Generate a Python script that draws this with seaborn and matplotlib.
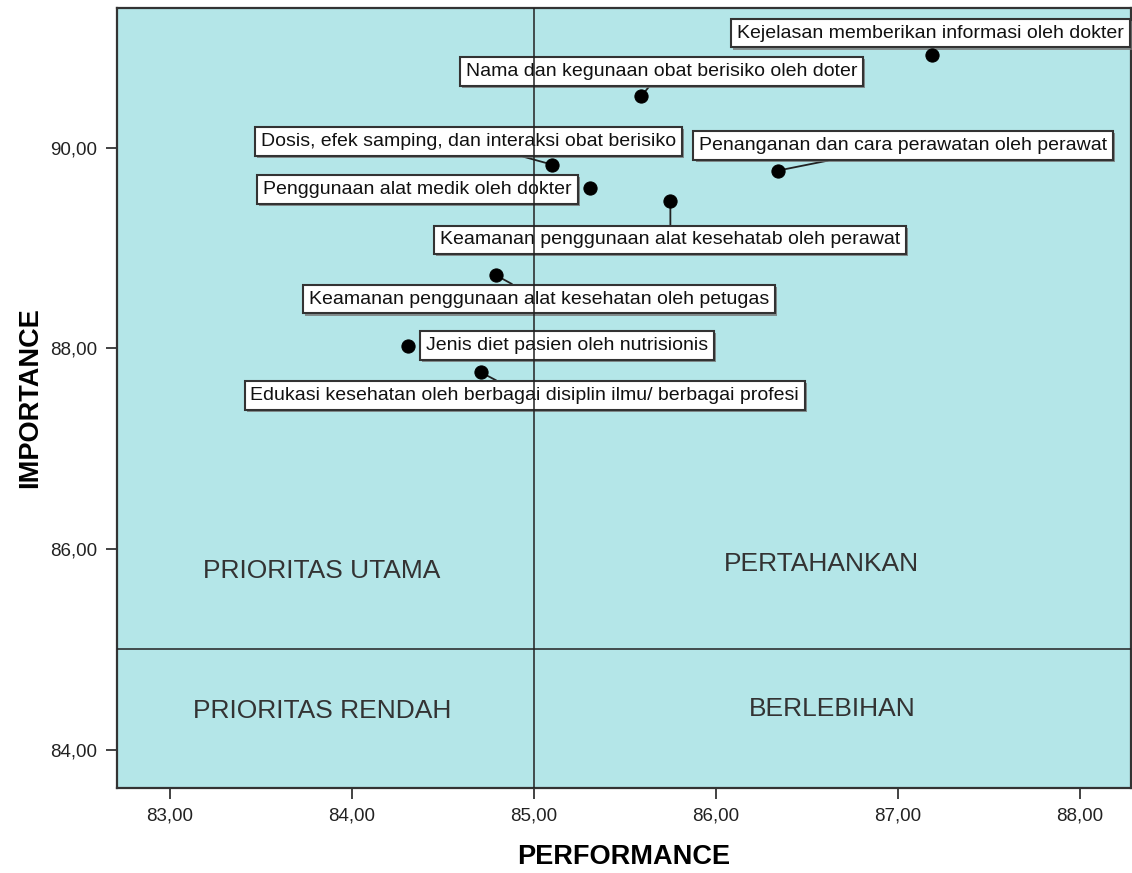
import matplotlib
matplotlib.use("Agg")
import matplotlib.pyplot as plt
import matplotlib.ticker as mticker
import matplotlib.patheffects as pe
import seaborn as sns
import pandas as pd

# item labels and their (performance, importance) scores
items = [
    "Kejelasan memberikan informasi oleh dokter",
    "Nama dan kegunaan obat berisiko oleh doter",
    "Dosis, efek samping, dan interaksi obat berisiko",
    "Penanganan dan cara perawatan oleh perawat",
    "Penggunaan alat medik oleh dokter",
    "Keamanan penggunaan alat kesehatab oleh perawat",
    "Keamanan penggunaan alat kesehatan oleh petugas",
    "Jenis diet pasien oleh nutrisionis",
    "Edukasi kesehatan oleh berbagai disiplin ilmu/ berbagai profesi",
]
performance = [87.19, 85.59, 85.10, 86.34, 85.31, 85.75, 84.79, 84.31, 84.71]
importance = [90.92, 90.51, 89.83, 89.77, 89.60, 89.47, 88.73, 88.02, 87.76]

x_ticks = [83, 84, 85, 86, 87, 88]
y_ticks = [84, 86, 88, 90]
x_cut = 85.0
y_cut = 85.0

quadrants = ["PRIORITAS UTAMA", "PERTAHANKAN", "PRIORITAS RENDAH", "BERLEBIHAN"]

# label box centres (data coords) and whether a leader line is drawn
label_pos = [
    (87.18, 91.14), (85.70, 90.76), (84.64, 90.06), (87.03, 90.02),
    (84.36, 89.58), (85.75, 89.08), (85.03, 88.49), (85.18, 88.03),
    (84.95, 87.53),
]
leader = [False, True, True, True, False, True, True, False, True]

df = pd.DataFrame({"item": items, "performance": performance, "importance": importance})

plt.rcParams["font.family"] = ["Liberation Sans", "DejaVu Sans"]

fig = plt.figure(figsize=(11.32, 8.73), dpi=100)
ax = fig.add_axes([0.1034, 0.0974, 0.8956, 0.8934])
ax.set_facecolor("#b4e6e8")

# cut lines sit on top of the label boxes, like the original
ax.axvline(x_cut, color="#222222", linewidth=1.1, zorder=6)
ax.axhline(y_cut, color="#222222", linewidth=1.1, zorder=6)

sns.scatterplot(data=df, x="performance", y="importance", ax=ax,
                color="black", s=90, edgecolor="black", zorder=7, legend=False)

for name, px, py, (lx, ly), ln in zip(items, performance, importance, label_pos, leader):
    ann = ax.annotate(name, xy=(px, py), xytext=(lx, ly), ha="center", va="center",
                      fontsize=14, color="#111111", zorder=3,
                      bbox=dict(boxstyle="square,pad=0.3", fc="white", ec="#333333", lw=1.5),
                      arrowprops=dict(arrowstyle="-", color="#222222", lw=1.3,
                                      shrinkA=0, shrinkB=0) if ln else None)
    ann.get_bbox_patch().set_path_effects(
        [pe.SimplePatchShadow(offset=(1.5, -1.5), shadow_rgbFace="#777777", alpha=0.8),
         pe.Normal()])

qx = [83.835, 86.58, 83.835, 86.64]
qy = [85.78, 85.85, 84.39, 84.41]
for txt, x, y in zip(quadrants, qx, qy):
    ax.text(x, y, txt, ha="center", va="center", fontsize=19, color="#333333")

ax.set_xlim(82.71, 88.28)
ax.set_ylim(83.62, 91.39)
ax.set_xticks(x_ticks)
ax.set_yticks(y_ticks)
fmt = mticker.FuncFormatter(lambda v, p: f"{v:.2f}".replace(".", ","))
ax.xaxis.set_major_formatter(fmt)
ax.yaxis.set_major_formatter(fmt)
ax.tick_params(direction="out", length=8, width=1.2, colors="#222222",
               labelsize=13.5, labelcolor="#222222", pad=6)

for sp in ax.spines.values():
    sp.set_color("#333333")
    sp.set_linewidth(1.6)

ax.set_xlabel("PERFORMANCE", fontsize=19.5, fontweight="bold", labelpad=14)
ax.set_ylabel("IMPORTANCE", fontsize=19.5, fontweight="bold", labelpad=5)

fig.savefig("out.png", dpi=100)
